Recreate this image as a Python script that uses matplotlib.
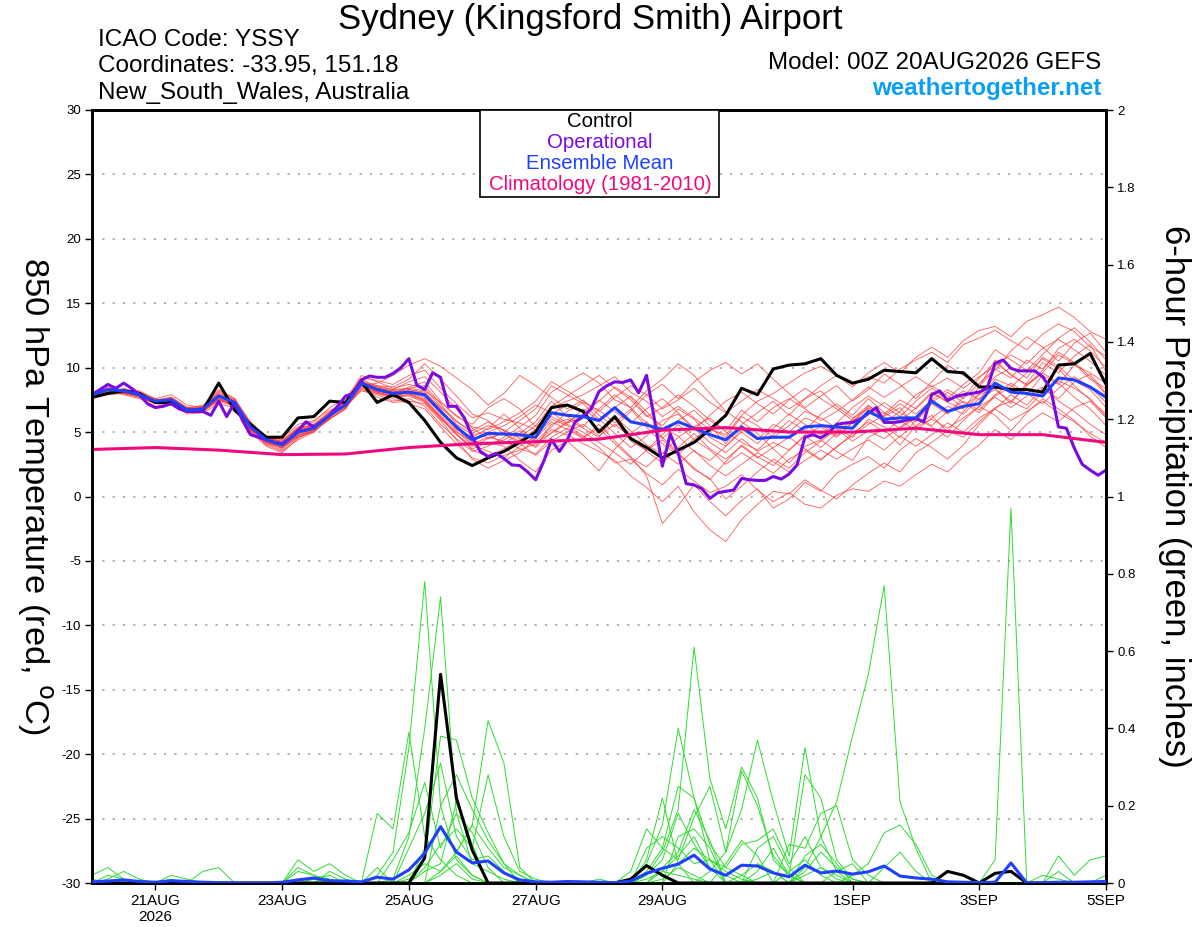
import matplotlib
matplotlib.use("Agg")
import matplotlib.pyplot as plt
import matplotlib.patches as patches
import numpy as np
import pandas as pd

plt.rcParams['font.family'] = ['Liberation Sans', 'DejaVu Sans']

run_start = '2026-08-20 00:00'
times6 = pd.date_range(run_start, periods=65, freq='6h')
times3 = pd.date_range(run_start, periods=129, freq='3h')
clim_days = pd.date_range(run_start, periods=17, freq='D')

tick_dates = pd.to_datetime(['2026-08-21', '2026-08-23', '2026-08-25', '2026-08-27',
                             '2026-08-29', '2026-09-01', '2026-09-03', '2026-09-05'])
tick_labels = ['21AUG\n2026', '23AUG', '25AUG', '27AUG', '29AUG', '1SEP', '3SEP', '5SEP']
temp_ticks = [-30, -25, -20, -15, -10, -5, 0, 5, 10, 15, 20, 25, 30]
precip_ticks = [0, 0.2, 0.4, 0.6, 0.8, 1, 1.2, 1.4, 1.6, 1.8, 2]
precip_labels = ['0', '0.2', '0.4', '0.6', '0.8', '1', '1.2', '1.4', '1.6', '1.8', '2']

# 850 hPa temperature (C), 6-hourly
control_t = [7.7, 8.0, 8.2, 8.0, 7.3, 7.3, 6.7, 6.7, 8.8, 6.7,
             5.6, 4.6, 4.6, 6.1, 6.2, 7.4, 7.3, 8.9, 7.3, 7.9,
             7.3, 5.9, 4.2, 3.0, 2.4, 3.0, 3.5, 4.2, 5.0, 6.9,
             7.1, 6.6, 5.0, 6.2, 4.5, 3.8, 3.0, 3.6, 4.2, 5.2,
             6.3, 8.4, 7.9, 9.9, 10.2, 10.3, 10.7, 9.4, 8.8, 9.1,
             9.8, 9.7, 9.6, 10.7, 9.7, 9.6, 8.5, 8.5, 8.3, 8.3,
             8.1, 10.2, 10.3, 11.1, 8.7]

mean_t = [7.9, 8.3, 8.2, 7.9, 7.4, 7.5, 6.7, 6.8, 7.8, 7.3,
          5.4, 4.4, 4.0, 5.0, 5.3, 6.3, 7.1, 8.8, 8.3, 8.0,
          8.1, 7.9, 6.6, 5.4, 4.4, 4.9, 4.85, 4.8, 4.6, 6.5,
          6.3, 6.2, 5.9, 6.9, 5.8, 5.55, 5.2, 5.8, 5.3, 4.8,
          4.4, 5.4, 4.5, 4.6, 4.6, 5.4, 5.5, 5.4, 5.3, 6.6,
          6.0, 6.1, 6.1, 7.4, 6.6, 7.0, 7.2, 8.8, 8.1, 8.0,
          7.8, 9.2, 9.05, 8.5, 7.7]

# operational run, 3-hourly
oper_t = [7.9, 8.3, 8.7, 8.4, 8.8, 8.4, 7.9, 7.2, 6.9, 7.0,
          7.2, 6.8, 6.6, 6.6, 6.6, 6.3, 7.4, 6.2, 7.3, 5.9,
          4.8, 4.6, 4.4, 4.2, 4.1, 4.5, 5.1, 5.8, 5.4, 5.8,
          6.3, 7.0, 7.8, 8.0, 9.05, 9.35, 9.25, 9.25, 9.55, 10.0,
          10.7, 8.65, 8.3, 9.6, 9.25, 7.0, 7.0, 6.1, 4.65, 3.5,
          3.1, 3.35, 2.95, 2.45, 2.4, 1.9, 1.3, 2.7, 4.4, 3.5,
          4.4, 5.8, 6.2, 6.8, 8.15, 8.6, 8.9, 8.85, 9.05, 8.05,
          9.4, 6.0, 2.35, 4.85, 3.35, 1.0, 0.9, 0.6, -0.15, 0.3,
          0.4, 0.5, 1.4, 1.3, 1.25, 1.25, 1.55, 1.35, 1.75, 2.45,
          4.6, 4.8, 4.55, 4.95, 5.6, 5.7, 5.75, 6.0, 6.45, 6.9,
          5.75, 5.75, 5.8, 5.95, 6.05, 5.8, 7.9, 8.2, 7.45, 7.75,
          7.9, 8.0, 8.1, 8.4, 10.35, 10.6, 9.95, 9.75, 9.75, 9.75,
          9.3, 8.4, 5.4, 5.3, 3.75, 2.5, 2.05, 1.65, 2.05]

# climatology 1981-2010, daily
clim_t = [3.65, 3.8, 3.6, 3.25, 3.3, 3.8, 4.1, 4.25, 4.45,
          5.15, 5.35, 5.0, 5.0, 5.3, 4.8, 4.8, 4.2]

members_t = [
    [7.8, 8.2, 8.0, 7.7, 7.2, 7.6, 6.9, 7.0, 8.3, 7.6,
     5.8, 4.6, 4.3, 5.4, 5.8, 6.9, 7.6, 9.2, 9.0, 8.7, 9.4,
     9.8, 8.4, 7.2, 6.1, 6.5, 6.0, 5.7, 5.2, 6.9, 7.4,
     7.9, 8.6, 9.3, 8.1, 7.4, 6.2, 7.0, 6.1, 5.2, 4.8,
     6.3, 7.4, 8.0, 8.8, 9.6, 10.1, 9.4, 8.7,
     9.3, 8.8, 9.9, 10.6, 11.2, 10.4, 11.8, 12.3,
     12.9, 12.1, 11.4, 12.6, 13.4, 12.8, 11.6, 10.9],
    [8.0, 8.4, 8.3, 8.1, 7.5, 7.3, 6.5, 6.6, 7.5, 7.1,
     5.2, 4.1, 3.8, 4.6, 5.1, 6.0, 6.8, 8.5, 8.0, 7.6, 7.2,
     6.8, 5.4, 4.1, 3.0, 2.6, 3.2, 3.6, 4.1, 5.2, 4.8,
     4.1, 3.5, 2.8, 1.6, 0.7, -0.4, 0.8, -1.2, -2.6, -3.5,
     -1.8, -0.6, 0.4, 0.2, 1.3, 0.5, -0.2, 0.9,
     1.8, 2.6, 1.9, 3.4, 4.2, 5.1, 4.6, 5.8,
     6.9, 7.4, 6.8, 8.1, 9.0, 8.4, 7.6, 6.2],
    [7.7, 8.1, 8.4, 8.0, 7.6, 7.9, 7.1, 6.9, 8.0, 7.4,
     5.5, 4.3, 3.7, 4.8, 5.0, 6.1, 7.3, 9.0, 8.6, 8.5, 9.1,
     10.3, 9.1, 7.8, 6.4, 5.9, 4.8, 4.3, 3.9, 5.6, 6.0,
     5.3, 4.6, 6.2, 5.1, 4.0, 3.3, 4.6, 5.4, 6.1, 5.0,
     4.2, 3.6, 4.8, 5.9, 5.1, 6.4, 7.2, 6.3,
     7.6, 6.5, 5.8, 6.9, 8.1, 7.3, 6.8, 8.5,
     10.6, 9.4, 8.7, 9.6, 11.0, 10.3, 9.1, 8.4],
    [7.9, 8.2, 7.9, 7.6, 7.0, 7.2, 6.4, 6.5, 7.2, 6.9,
     5.0, 3.9, 3.4, 4.5, 5.2, 6.4, 7.0, 8.2, 7.9, 7.4, 7.6,
     7.0, 5.6, 4.5, 3.5, 3.9, 4.6, 5.4, 6.3, 8.1, 8.9,
     9.6, 8.8, 7.5, 6.9, 8.2, 9.1, 10.3, 9.4, 8.0, 6.6,
     5.8, 4.9, 3.7, 2.6, 3.9, 4.4, 3.5, 2.8,
     4.6, 5.2, 4.0, 5.5, 6.3, 5.0, 6.6, 7.9,
     8.4, 7.2, 8.8, 10.4, 9.6, 10.9, 11.8, 9.7],
    [8.1, 8.5, 8.1, 7.8, 7.3, 7.4, 6.8, 7.1, 7.9, 7.2,
     5.3, 4.5, 4.2, 5.3, 5.6, 6.6, 7.4, 8.9, 8.4, 8.2, 8.0,
     7.6, 6.1, 4.8, 3.7, 4.2, 3.9, 2.8, 1.9, 3.6, 4.3,
     3.2, 2.0, 3.7, 4.9, 5.8, 4.6, 3.4, 2.2, 1.3, 2.7,
     4.0, 3.1, 2.4, 3.6, 4.7, 3.8, 4.9, 6.0,
     7.1, 6.0, 5.3, 6.1, 5.4, 4.6, 5.9, 7.0,
     6.3, 5.1, 6.5, 7.6, 6.8, 5.9, 4.7, 3.8],
    [7.6, 8.0, 8.2, 7.9, 7.4, 7.5, 6.6, 6.8, 8.1, 7.5,
     5.6, 4.7, 4.1, 5.1, 5.4, 6.2, 7.2, 8.6, 8.8, 9.4, 10.2,
     10.7, 10.1, 9.2, 8.3, 7.1, 8.0, 9.4, 8.6, 7.7, 6.8,
     7.5, 6.3, 5.4, 6.6, 7.9, 8.7, 7.6, 8.9, 9.8, 10.4,
     9.5, 10.3, 9.1, 8.0, 6.9, 7.8, 8.6, 7.4,
     8.3, 9.5, 8.7, 7.6, 8.9, 10.2, 9.4, 8.6,
     9.8, 11.3, 12.4, 11.6, 10.5, 11.9, 12.7, 11.2],
    [7.8, 8.3, 8.1, 7.8, 7.5, 7.7, 6.9, 6.7, 7.6, 7.0,
     5.1, 4.0, 3.5, 4.4, 5.0, 6.3, 7.0, 8.4, 7.7, 7.3, 7.4,
     7.2, 5.9, 4.4, 2.9, 2.2, 2.8, 3.4, 4.5, 5.8, 5.2,
     4.5, 5.6, 4.3, 3.1, 1.6, -2.1, -0.7, 0.9, -0.4, -1.5,
     -0.3, 0.6, -0.9, -0.2, 1.1, 0.4, 1.8, 2.5,
     3.1, 2.2, 3.6, 4.5, 3.8, 2.9, 4.0, 5.6,
     6.8, 7.9, 7.1, 8.4, 7.6, 8.9, 9.5, 8.0],
    [7.7, 8.0, 8.3, 8.2, 7.6, 7.3, 6.7, 6.9, 7.8, 7.4,
     5.7, 4.6, 4.5, 5.6, 5.9, 6.7, 7.1, 8.8, 8.3, 8.0, 8.5,
     8.9, 7.4, 6.2, 5.6, 6.9, 7.6, 6.8, 5.4, 6.4, 7.1,
     6.6, 7.4, 8.5, 7.7, 6.3, 5.5, 6.8, 6.0, 4.6, 3.9,
     5.2, 4.4, 5.6, 5.0, 6.1, 5.6, 4.7, 5.8,
     7.0, 6.4, 7.5, 6.8, 8.0, 7.4, 8.2, 7.5,
     9.1, 8.6, 7.9, 9.4, 8.7, 10.2, 9.6, 8.8],
    [8.0, 8.3, 8.0, 7.7, 7.2, 7.1, 6.6, 6.6, 7.4, 7.0,
     5.2, 4.2, 3.9, 4.7, 5.1, 6.0, 6.8, 8.7, 8.2, 7.9, 8.2,
     7.9, 6.6, 5.5, 4.4, 4.8, 4.1, 4.9, 5.8, 7.4, 6.2,
     5.4, 6.8, 7.9, 6.9, 5.7, 4.5, 5.6, 4.4, 3.6, 2.5,
     3.4, 2.6, 1.8, 2.9, 3.6, 2.8, 3.9, 4.7,
     5.6, 6.3, 7.2, 6.4, 7.5, 8.3, 7.6, 8.8,
     9.9, 9.2, 10.6, 9.9, 11.2, 10.4, 9.3, 7.9],
    [7.9, 8.1, 8.2, 8.0, 7.4, 7.6, 6.9, 7.0, 7.7, 7.3,
     5.4, 4.4, 4.0, 4.9, 5.3, 6.2, 7.4, 9.4, 8.9, 8.4, 8.7,
     8.4, 7.0, 5.9, 4.9, 5.5, 5.2, 4.5, 3.8, 5.0, 5.8,
     6.4, 5.1, 6.0, 4.3, 3.6, 4.8, 5.9, 6.7, 5.5, 4.1,
     5.6, 6.5, 7.4, 6.3, 7.6, 8.2, 7.0, 6.1,
     6.8, 5.7, 6.6, 7.9, 8.6, 7.8, 6.9, 8.0,
     9.3, 10.0, 9.2, 10.8, 10.1, 9.0, 8.3, 6.9],
    [7.8, 8.3, 8.1, 7.9, 7.3, 7.5, 6.8, 6.9, 8.2, 7.6,
     5.6, 4.6, 4.4, 5.3, 5.5, 6.5, 7.3, 9.1, 8.5, 8.3, 8.9,
     9.3, 8.1, 6.8, 5.3, 4.5, 5.0, 5.9, 6.8, 8.6, 7.9,
     7.2, 6.0, 4.9, 3.8, 4.7, 5.9, 6.4, 5.2, 6.3, 7.4,
     8.1, 7.2, 6.4, 7.5, 8.4, 7.6, 6.8, 5.9,
     6.4, 7.3, 6.5, 5.8, 7.2, 6.4, 7.7, 9.2,
     10.4, 9.5, 8.6, 9.8, 11.5, 12.2, 11.3, 10.0],
    [7.6, 7.9, 8.0, 7.8, 7.3, 7.4, 6.6, 6.7, 7.5, 7.1,
     5.1, 4.1, 3.6, 4.6, 5.0, 6.1, 6.9, 8.3, 8.0, 7.8, 7.9,
     7.5, 6.3, 5.1, 4.0, 3.5, 3.0, 3.9, 4.7, 6.0, 5.5,
     4.7, 3.8, 2.6, 2.9, 1.8, 0.9, 2.1, 1.2, 0.3, 0.8,
     1.7, 0.5, -0.4, 0.3, -0.6, -0.9, 0.1, 0.6,
     0.4, 1.2, 0.8, 1.7, 2.5, 1.9, 3.1, 4.0,
     5.2, 4.4, 5.6, 6.5, 5.8, 6.9, 7.4, 6.1],
    [8.1, 8.4, 8.2, 7.9, 7.5, 7.6, 6.8, 6.9, 7.9, 7.4,
     5.5, 4.3, 4.0, 5.0, 5.4, 6.4, 7.2, 8.9, 8.5, 8.1, 8.3,
     8.0, 6.8, 5.2, 4.6, 5.3, 6.4, 5.3, 4.3, 5.4, 6.6,
     7.3, 6.7, 5.7, 6.8, 5.4, 4.1, 3.2, 4.5, 5.3, 4.6,
     6.2, 5.5, 4.6, 5.5, 6.6, 6.1, 5.3, 4.6,
     6.0, 5.4, 4.6, 5.9, 7.3, 8.1, 7.3, 6.5,
     7.8, 8.5, 9.6, 10.7, 9.9, 8.6, 7.5, 6.4],
    [7.7, 8.1, 8.3, 8.1, 7.5, 7.3, 6.5, 6.6, 7.6, 7.1,
     5.3, 4.5, 4.3, 5.2, 5.6, 6.5, 7.1, 8.6, 8.1, 7.7, 7.8,
     7.3, 6.0, 5.0, 4.3, 4.0, 4.4, 5.1, 4.2, 4.9, 5.7,
     6.2, 7.5, 6.6, 5.7, 6.8, 7.6, 6.5, 5.3, 4.2, 3.4,
     4.5, 3.5, 4.2, 3.6, 4.8, 5.4, 4.6, 5.7,
     6.9, 6.2, 6.9, 5.4, 6.0, 5.3, 6.1, 7.0,
     7.7, 6.9, 7.8, 8.5, 7.4, 6.6, 5.6, 4.8],
    [7.9, 8.2, 8.0, 7.8, 7.4, 7.7, 6.9, 6.8, 7.9, 7.5,
     5.7, 4.6, 4.1, 5.0, 5.5, 6.5, 7.3, 8.8, 8.6, 8.3, 8.4,
     8.2, 7.3, 6.3, 5.4, 5.2, 5.8, 6.5, 7.4, 8.9, 8.2,
     7.4, 6.6, 7.7, 8.6, 7.9, 6.8, 7.5, 8.4, 7.3, 6.5,
     7.4, 8.3, 7.6, 6.8, 7.6, 8.6, 9.4, 8.5,
     9.6, 10.4, 9.6, 10.8, 11.6, 10.8, 12.1, 12.9,
     13.2, 12.4, 13.6, 14.1, 14.7, 13.9, 12.8, 12.2],
    [7.8, 8.2, 8.2, 7.9, 7.3, 7.4, 6.7, 6.8, 7.8, 7.2,
     5.4, 4.3, 3.9, 4.9, 5.2, 6.3, 7.0, 8.7, 8.2, 7.9, 8.0,
     7.4, 6.2, 4.9, 3.6, 3.1, 3.7, 4.4, 5.2, 6.2, 5.6,
     5.0, 4.2, 3.4, 2.5, 3.6, 4.4, 3.3, 2.1, 1.4, -0.2,
     0.8, 1.9, 2.9, 2.2, 3.4, 4.3, 5.2, 4.3,
     5.1, 4.5, 5.4, 6.2, 5.5, 6.6, 7.4, 6.7,
     7.9, 8.8, 8.0, 7.2, 8.4, 9.3, 8.5, 7.3],
    [8.0, 8.2, 8.1, 7.9, 7.4, 7.3, 6.7, 6.8, 7.7, 7.3,
     5.5, 4.4, 4.1, 5.1, 5.5, 6.3, 7.2, 8.9, 8.4, 8.2, 8.4,
     8.6, 7.2, 5.6, 4.8, 5.0, 5.5, 6.2, 7.1, 6.5, 5.7,
     6.8, 5.9, 6.9, 7.8, 6.6, 5.3, 4.7, 3.5, 2.8, 3.9,
     5.0, 4.1, 5.3, 6.4, 5.6, 4.8, 5.7, 6.9,
     7.8, 7.0, 6.2, 7.4, 8.4, 7.6, 8.7, 9.6,
     11.4, 10.6, 9.8, 11.0, 12.3, 13.1, 12.0, 10.6],
    [7.8, 8.1, 8.0, 7.8, 7.3, 7.5, 6.8, 6.7, 7.6, 7.1,
     5.2, 4.2, 3.8, 4.7, 5.3, 6.2, 7.2, 8.6, 8.1, 7.8, 8.1,
     7.7, 6.5, 5.3, 4.1, 4.6, 4.3, 3.7, 3.3, 4.6, 5.3,
     4.6, 5.3, 4.1, 3.0, 2.3, 3.4, 2.5, 3.6, 2.4, 1.6,
     2.5, 3.4, 2.7, 1.9, 2.8, 3.6, 2.9, 3.7,
     4.4, 3.6, 4.7, 3.9, 4.8, 5.7, 5.0, 6.1,
     6.8, 5.9, 6.6, 7.4, 6.5, 5.8, 4.9, 4.2],
    [7.9, 8.3, 8.2, 8.0, 7.5, 7.6, 6.8, 6.9, 7.9, 7.4,
     5.5, 4.5, 4.2, 5.2, 5.4, 6.4, 7.1, 8.8, 8.3, 8.1, 8.3,
     8.1, 6.9, 5.8, 5.1, 5.8, 5.1, 4.6, 5.5, 7.0, 7.8,
     8.6, 9.4, 8.4, 7.5, 6.2, 6.9, 7.9, 7.0, 5.9, 5.1,
     6.7, 5.8, 6.9, 7.6, 6.8, 5.9, 6.6, 7.5,
     8.5, 7.7, 8.5, 9.3, 8.5, 9.2, 8.4, 9.3,
     10.1, 11.0, 10.3, 11.5, 12.2, 11.4, 10.5, 9.4],
    [7.7, 8.0, 8.1, 7.8, 7.2, 7.4, 6.6, 6.7, 7.6, 7.2,
     5.3, 4.2, 3.8, 4.8, 5.1, 6.0, 6.9, 8.6, 8.1, 7.8, 7.9,
     7.4, 6.1, 4.8, 3.9, 4.5, 4.9, 4.1, 3.2, 4.3, 5.0,
     5.6, 4.7, 5.6, 4.6, 3.5, 2.6, 3.8, 4.9, 3.7, 2.9,
     3.9, 3.0, 3.8, 4.6, 3.7, 2.9, 3.8, 4.9,
     5.8, 5.0, 5.9, 5.1, 6.1, 7.0, 6.4, 7.6,
     8.3, 7.4, 8.6, 9.6, 8.8, 7.7, 6.8, 5.5],
]

# 6-hour precipitation (inches)
control_p = [0, 0, 0, 0, 0, 0, 0, 0, 0, 0,
             0, 0, 0, 0, 0, 0, 0, 0, 0, 0,
             0, 0.065, 0.54, 0.22, 0.085, 0, 0, 0, 0, 0,
             0, 0, 0, 0, 0.01, 0.045, 0.02, 0, 0, 0,
             0, 0, 0, 0, 0, 0, 0, 0, 0, 0,
             0, 0, 0, 0, 0.03, 0.02, 0, 0.025, 0.03, 0,
             0, 0, 0, 0, 0]

mean_p = [0.003, 0.005, 0.008, 0.004, 0.002, 0.006, 0.004, 0.002, 0.001, 0.0,
          0.0, 0.0, 0.002, 0.008, 0.013, 0.006, 0.005, 0.003, 0.015, 0.01,
          0.034, 0.077, 0.146, 0.08, 0.052, 0.057, 0.026, 0.008, 0.003, 0.002,
          0.004, 0.003, 0.002, 0.001, 0.005, 0.025, 0.038, 0.049, 0.072, 0.036,
          0.02, 0.046, 0.044, 0.026, 0.016, 0.046, 0.026, 0.031, 0.023, 0.029,
          0.044, 0.018, 0.013, 0.01, 0.003, 0.002, 0.001, 0.002, 0.052, 0.0,
          0.001, 0.002, 0.002, 0.003, 0.004]

# ensemble members, hundredths of an inch
members_p_hundredths = [
    [0,1,3,1,0,0,0,0,0,0, 0,0,0,0,1,0,0,0,2,8, 35,78,20,6,2,0,0,0,0,0,
     0,0,0,0,0,2,6,18,10,4, 2,0,1,3,0,0,0,0,0,0, 0,0,0,0,0,0,0,0,0,0, 0,0,0,0,0],
    [0,0,1,0,0,2,1,0,0,0, 0,0,0,3,2,1,0,0,0,1, 12,40,74,18,5,3,1,0,0,0,
     0,0,0,0,0,0,1,4,2,0, 0,0,0,0,3,6,2,0,0,0, 0,0,0,0,0,0,0,0,0,0, 0,0,0,0,2],
    [0,2,1,0,0,1,0,3,4,0, 0,0,0,0,1,2,0,0,18,14, 39,12,6,2,0,0,0,0,0,0,
     0,0,0,0,0,0,0,5,9,6, 3,1,0,0,0,2,4,1,0,0, 0,0,0,0,0,0,0,0,0,0, 0,3,0,0,0],
    [0,0,0,0,0,0,0,0,0,0, 0,0,0,0,0,0,0,0,0,0, 2,5,3,8,15,42,31,4,0,0,
     0,0,0,0,0,1,3,2,1,0, 0,0,0,0,0,0,0,0,0,0, 0,0,0,0,0,0,0,0,0,0, 0,0,0,0,0],
    [1,0,0,0,0,0,0,0,0,0, 0,0,0,0,0,3,1,0,0,0, 0,4,10,14,9,28,12,3,1,0,
     0,0,1,0,0,0,0,0,0,0, 0,2,5,3,0,0,0,0,0,0, 0,0,0,0,0,0,0,0,0,0, 0,0,0,0,0],
    [0,0,0,0,0,0,0,0,0,0, 0,0,0,0,0,0,0,0,0,0, 1,6,38,37,22,13,5,2,0,0,
     0,0,0,0,0,0,0,0,0,0, 0,0,0,0,0,3,8,4,1,0, 0,0,0,0,0,0,0,0,0,0, 0,0,0,0,0],
    [0,0,0,0,0,0,0,0,0,0, 0,0,0,0,0,0,0,0,0,0, 0,0,3,7,2,0,0,0,0,0,
     0,0,0,0,0,2,8,19,61,27, 14,30,22,6,2,0,0,0,0,0, 0,0,0,0,0,0,0,0,0,0, 0,0,0,0,0],
    [0,0,0,0,0,0,0,0,0,0, 0,0,0,4,2,0,0,0,0,0, 0,0,0,0,0,0,0,0,0,0,
     0,0,0,0,0,5,15,40,22,6, 0,0,3,9,2,0,0,0,0,0, 0,0,0,0,0,0,0,0,0,0, 0,0,0,0,0],
    [0,0,0,0,0,0,0,0,0,0, 0,0,0,0,0,0,0,0,0,0, 0,0,0,0,0,0,0,0,0,0,
     0,0,0,0,0,6,22,5,0,3, 8,19,37,21,7,35,12,3,0,0, 0,0,0,0,0,0,0,0,0,0, 0,0,0,0,0],
    [0,0,0,0,0,0,0,0,0,0, 0,0,0,0,0,0,0,0,0,0, 0,0,0,0,0,0,0,0,0,0,
     0,0,0,0,0,0,0,0,0,0, 0,0,0,0,0,4,12,21,38,54, 77,21,9,0,0,0,0,0,0,0, 0,0,0,0,0],
    [2,4,1,0,0,0,0,0,0,0, 0,0,0,0,0,0,0,0,0,0, 0,0,2,5,1,0,0,0,0,0,
     0,0,0,0,0,0,0,0,0,0, 0,0,0,0,0,0,0,0,0,0, 0,0,0,0,0,0,0,6,97,0, 0,0,0,0,0],
    [0,0,0,0,0,0,0,0,0,0, 0,0,0,0,0,0,0,0,0,0, 0,0,0,0,0,0,0,0,0,0,
     0,0,0,0,3,14,9,6,17,25, 8,29,20,7,2,28,22,6,1,0, 0,0,0,0,0,0,0,0,0,0, 0,0,0,0,0],
    [0,0,0,0,0,0,0,0,0,0, 0,0,0,0,0,0,0,0,4,0, 0,0,0,0,0,0,0,0,0,0,
     0,0,0,0,0,3,9,25,22,10, 4,2,0,0,10,9,18,20,6,2, 0,0,0,0,0,0,0,0,0,0, 0,0,0,0,0],
    [0,0,0,0,0,0,0,0,0,0, 0,0,0,0,0,0,0,0,0,0, 0,0,0,0,0,0,0,0,0,0,
     0,0,0,0,0,0,0,0,0,0, 0,0,0,0,0,0,0,0,2,5, 13,15,10,2,0,0,0,0,0,0, 0,7,2,6,7],
    [0,0,0,0,0,0,0,0,0,0, 0,0,0,0,0,0,0,0,0,0, 0,0,0,0,0,0,0,0,0,0,
     0,0,0,0,0,9,12,9,5,6, 4,10,11,14,5,12,4,2,0,0, 4,8,3,0,0,0,0,0,0,0, 0,0,0,0,0],
    [0,0,0,0,0,0,0,0,0,0, 0,0,0,0,0,0,0,0,0,0, 9,18,31,12,6,7,3,0,0,0,
     0,0,0,0,0,0,3,7,12,4, 0,0,0,0,0,0,0,0,0,0, 0,0,0,0,0,0,0,0,0,0, 0,0,0,0,0],
    [0,0,0,0,0,0,0,0,0,0, 0,0,0,0,0,0,0,0,0,6, 13,26,9,18,13,4,0,0,0,0,
     0,0,0,0,0,0,0,0,0,0, 0,0,9,12,4,0,0,0,0,0, 0,0,0,0,0,0,0,0,0,0, 0,0,0,0,0],
    [0,0,0,0,0,0,0,0,0,0, 0,0,0,0,0,0,0,0,0,0, 0,0,20,28,19,11,5,0,0,0,
     0,0,0,0,0,0,0,0,0,0, 5,11,7,0,0,0,0,3,5,0, 0,0,0,0,0,0,0,0,0,0, 0,0,0,0,0],
    [0,0,0,0,0,0,0,0,0,0, 0,0,0,0,0,0,0,0,0,0, 0,9,14,8,15,9,4,2,0,0,
     0,0,0,0,0,0,0,12,14,9, 0,0,0,0,0,7,10,5,0,0, 0,0,0,0,0,0,0,0,0,0, 2,1,0,0,0],
    [0,0,0,0,0,0,0,0,0,0, 0,0,0,6,3,5,2,0,0,0, 0,3,5,21,10,0,0,0,0,0,
     0,0,0,0,0,0,4,8,19,11, 0,0,0,0,0,0,0,0,0,0, 0,0,0,0,0,0,0,0,0,0, 0,0,0,0,0],
]

fig = plt.figure(figsize=(12, 9.27), dpi=100)
ax = fig.add_axes([92 / 1200, 1 - 883 / 927, 1014 / 1200, 773 / 927])
ax2 = ax.twinx()

# temperature
for m in members_t:
    ax.plot(times6, m, color='#ff3b3b', lw=0.6, alpha=0.85, zorder=2)
ax.plot(times6, control_t, color='black', lw=2.2, zorder=4)
ax.plot(times3, oper_t, color='#7a0ae0', lw=2.2, zorder=5)
ax.plot(times6, mean_t, color='#1f40ff', lw=2.2, zorder=6)
ax.plot(clim_days, clim_t, color='#f0087f', lw=2.2, zorder=7)

# precipitation
for m in members_p_hundredths:
    ax2.plot(times6, np.array(m) / 100.0, color='#2edc2e', lw=0.7, zorder=2)
ax2.plot(times6, control_p, color='black', lw=2.2, zorder=4)
ax2.plot(times6, mean_p, color='#1f40ff', lw=2.2, zorder=5)

ax.set_xlim(times6[0], times6[-1])
ax.set_ylim(-30, 30)
ax2.set_ylim(0, 2)

ax.set_yticks(temp_ticks)
ax.set_yticklabels([str(t) for t in temp_ticks])
ax2.set_yticks(precip_ticks)
ax2.set_yticklabels(precip_labels)
ax.set_xticks(tick_dates)
ax.set_xticklabels(tick_labels)

ax.yaxis.grid(True, color='#aaaaaa', lw=1.3, linestyle=(0, (1.2, 4.5)))
ax.set_axisbelow(True)

ax.tick_params(axis='y', direction='out', length=5, width=1, labelsize=9.5, pad=3)
ax.tick_params(axis='x', direction='out', length=5, width=1, labelsize=11, pad=3)
ax2.tick_params(axis='y', direction='out', length=5, width=1, labelsize=9.5, pad=3)

for a in (ax, ax2):
    for s in a.spines.values():
        s.set_linewidth(2.0)

# legend box
box = patches.Rectangle((0.3826, 0.8875), 0.2357, 0.1125, transform=ax2.transAxes,
                        facecolor='white', edgecolor='black', lw=1.2, zorder=20)
ax2.add_patch(box)
legend_items = [('Control', 'black', 0.9845), ('Operational', '#7a0ae0', 0.9586),
                ('Ensemble Mean', '#1f40ff', 0.9314),
                ('Climatology (1981-2010)', '#f0087f', 0.903)]
for label, col, yy in legend_items:
    ax2.text(0.501, yy, label, color=col, fontsize=14.7, ha='center', va='center',
             transform=ax2.transAxes, zorder=21)

fig.text(0.4917, 0.979, 'Sydney (Kingsford Smith) Airport', fontsize=25,
         ha='center', va='center')
fig.text(0.0817, 0.9569, 'ICAO Code: YSSY', fontsize=17.5, ha='left', va='center')
fig.text(0.0817, 0.9288, 'Coordinates: -33.95, 151.18', fontsize=17.5, ha='left', va='center')
fig.text(0.0817, 0.8997, 'New_South_Wales, Australia', fontsize=17.5, ha='left', va='center')
fig.text(0.9175, 0.932, 'Model: 00Z 20AUG2026 GEFS', fontsize=17.4, ha='right', va='center')
fig.text(0.9175, 0.904, 'weathertogether.net', fontsize=17.4, fontweight='bold',
         color='#0a9ef5', ha='right', va='center')

fig.text(0.029, 0.465, '850 hPa Temperature (red, $^{\\mathrm{o}}$C)', fontsize=24.8,
         rotation=-90, ha='center', va='center')
fig.text(0.979, 0.465, '6-hour Precipitation (green, inches)', fontsize=25,
         rotation=-90, ha='center', va='center')

fig.savefig('out.png', dpi=100)
